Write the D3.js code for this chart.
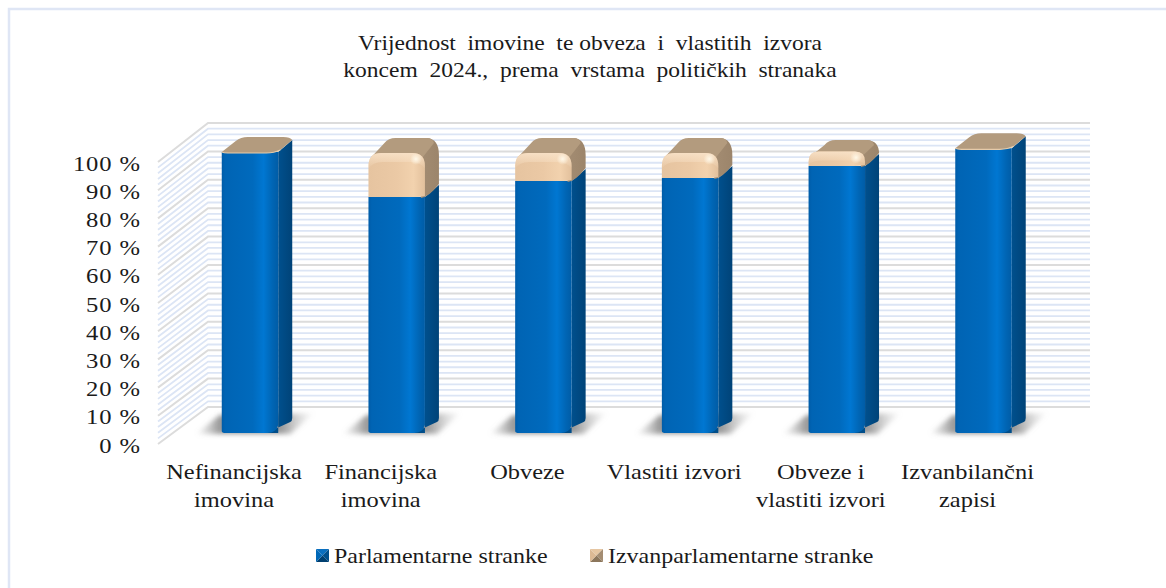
<!DOCTYPE html>
<html>
<head>
<meta charset="utf-8">
<script src="https://cdn.jsdelivr.net/npm/d3@7"></script>
<style>
html, body {margin: 0; padding: 0; background: #fff;}
svg {display: block;}
text {font-family: "Liberation Serif", serif; fill: #1a1a1a;}
</style>
</head>
<body>
<svg id="chart"></svg>
<script>
var titleLines = ['Vrijednost  imovine  te obveza  i  vlastitih  izvora', 'koncem  2024.,  prema  vrstama  političkih  stranaka'];
var categories = ['Nefinancijska imovina', 'Financijska imovina', 'Obveze', 'Vlastiti izvori', 'Obveze i vlastiti izvori', 'Izvanbilančni zapisi'];
var categoryLines = [['Nefinancijska', 'imovina'], ['Financijska', 'imovina'], ['Obveze'], ['Vlastiti izvori'], ['Obveze i', 'vlastiti izvori'], ['Izvanbilančni', 'zapisi']];
var seriesNames = ['Parlamentarne stranke', 'Izvanparlamentarne stranke'];
var parlamentarne = [98.6, 82.8, 88.4, 89.5, 93.7, 99.9];
var izvanparlamentarne = [1.4, 17.2, 11.6, 10.5, 6.3, 0.1];
var tickValues = [0, 10, 20, 30, 40, 50, 60, 70, 80, 90, 100];
var minorValues = d3.range(0, 100, 2);

var width = 1166, height = 588;
var depthX = 14, depthY = -12;

var svg = d3.select("#chart").attr("width", width).attr("height", height);
var defs = svg.append("defs");

// Scales: front of the side wall, back wall, and the plane the bars stand on
var yFront = d3.scaleLinear().domain([0, 100]).range([444, 162]);
var yBack = d3.scaleLinear().domain([0, 100]).range([407, 123]);
var yBar = d3.scaleLinear().domain([0, 100]).range([433, 148]);
var yLabel = d3.scaleLinear().domain([0, 100]).range([445, 163]);
var x = d3.scaleBand()
    .domain(categories)
    .range([176.65, 1056.85])
    .paddingInner(0.615)
    .paddingOuter(0.3075);

// The source picture is stretched sideways, so text is widened the same way
function placeWide(sel, px, py, sx)
{
    sel.attr("transform", "translate(" + px + "," + py + ") scale(" + sx + ",1)");
}

function gradient(id, stops, vertical)
{
    var g = defs.append("linearGradient").attr("id", id)
        .attr("x1", 0).attr("y1", 0)
        .attr("x2", vertical ? 0 : 1).attr("y2", vertical ? 1 : 0);
    stops.forEach(s => g.append("stop").attr("offset", s[0]).attr("stop-color", s[1]).attr("stop-opacity", s[2] === undefined ? 1 : s[2]));
}
gradient("blueFront", [[0, "#005ca8"], [0.06, "#0064b4"], [0.55, "#006abd"], [0.74, "#0077d2"], [0.9, "#0065b4"], [1, "#005ca6"]]);
gradient("blueSide", [[0, "#00467e"], [0.5, "#004f8c"], [1, "#004378"]]);
gradient("peachFront", [[0, "#e6c4a0"], [0.5, "#ebc9a5"], [0.8, "#f2d2ae"], [1, "#e2c09c"]]);
gradient("peachSide", [[0, "#a48d73"], [1, "#9c856b"]]);
gradient("shadow", [[0, "#999", 0], [0.2, "#777", 0.75], [0.72, "#777", 0.75], [1, "#aaa", 0]]);
gradient("bevel", [[0, "#f8e2c8", 0.9], [1, "#f8e2c8", 0]], true);
var glow = defs.append("radialGradient").attr("id", "glow");
glow.append("stop").attr("offset", 0).attr("stop-color", "#fff8e8").attr("stop-opacity", 1);
glow.append("stop").attr("offset", 1).attr("stop-color", "#fff8e8").attr("stop-opacity", 0);
defs.append("filter").attr("id", "blur").attr("x", "-20%").attr("y", "-40%").attr("width", "140%").attr("height", "180%")
    .append("feGaussianBlur").attr("stdDeviation", 2.5);

// Image frame, only top and left show
svg.append("path").attr("d", "M9,588V9H1166").attr("fill", "none").attr("stroke", "#dfe6f5").attr("stroke-width", 2.5);

// Title
titleLines.forEach((line, i) =>
{
    svg.append("text")
        .call(placeWide, 590, 50 + i * 27, 1.12)
        .attr("text-anchor", "middle")
        .style("font-size", "21px")
        .style("white-space", "pre")
        .text(line);
});

// Walls
var walls = svg.append("g");
function wallLine(v, color, w)
{
    walls.append("path")
        .attr("d", d3.line()([[158, yFront(v)], [208, yBack(v)], [1090, yBack(v)]]))
        .attr("fill", "none").attr("stroke", color).attr("stroke-width", w);
}
minorValues.filter(v => v % 10 != 0).forEach(v => wallLine(v, "#dce5f5", 1.8));
tickValues.forEach(v => wallLine(v, "#dcdcdc", 2));

// Y axis, labels only
var yAxis = svg.append("g")
    .attr("transform", "translate(141,0)")
    .call(d3.axisLeft(yLabel).tickValues(tickValues).tickSize(0).tickPadding(0).tickFormat(d => d + " %"));
yAxis.select(".domain").remove();
yAxis.selectAll("text")
    .attr("fill", "#1a1a1a")
    .attr("transform", "scale(1.12,1)")
    .attr("x", 0)
    .style("font-size", "22px")
    .style("letter-spacing", "0.8px")
    .style("font-family", "'Liberation Serif', serif");

// Bars
var rows = categories.map((c, i) => ({category: c, parl: parlamentarne[i], izvan: izvanparlamentarne[i]}));
var stacked = d3.stack().keys(["parl", "izvan"])(rows);

var bars = svg.append("g");
rows.forEach((row, i) =>
{
    var x0 = x(row.category), x1 = x0 + x.bandwidth();
    var yZero = yBar(0);
    var yParl = yBar(stacked[0][i][1]);
    var yTotal = yBar(stacked[1][i][1]);
    var peachHeight = yParl - yTotal;
    var bar = bars.append("g");

    // Floor shadow
    bar.append("path")
        .attr("d", `M${x0 - 26},${yZero + 1}L${x0 - 2},${yZero - 18}L${x1 + 36},${yZero - 20}L${x1 + 12},${yZero + 1}Z`)
        .attr("fill", "url(#shadow)")
        .attr("filter", "url(#blur)");

    // Blue side and front
    bar.append("path")
        .attr("d", `M${x1 - 12},${yZero}L${x1 + depthX - 2},${yZero + depthY + 1}Q${x1 + depthX},${yZero + depthY} ${x1 + depthX},${yZero + depthY - 3}V${yParl + depthY}L${x1},${yParl}V${yZero}Z`)
        .attr("fill", "url(#blueSide)");
    bar.append("path")
        .attr("d", `M${x0},${yParl}V${yZero - 2}Q${x0},${yZero} ${x0 + 4},${yZero}H${x1 - 11}Q${x1 - 2},${yZero} ${x1},${yZero - 8}V${yParl}Z`)
        .attr("fill", "url(#blueFront)");

    if (peachHeight < 6)
    {
        // Thin segment: only the top face shows
        var t = yParl;
        bar.append("path")
            .attr("d", `M${x0},${t}L${x0 + 14},${t - 11}Q${x0 + 19},${t - 15} ${x0 + 26},${t - 15}H${x1 + 5}Q${x1 + 12},${t - 15} ${x1 + depthX},${t + depthY}L${x1 + 2},${t - 2}Q${x1 - 4},${t + 1} ${x1 - 12},${t + 1}H${x0 + 6}Q${x0 + 2},${t + 1} ${x0},${t}Z`)
            .attr("fill", "#b39b7e");
        bar.append("path")
            .attr("d", `M${x0},${t}Q${x0 + 2},${t + 1} ${x0 + 6},${t + 1}H${x1 - 12}Q${x1 - 4},${t + 1} ${x1 + 2},${t - 2}`)
            .attr("fill", "none").attr("stroke", "#e6cbaa").attr("stroke-width", 1.2);
        return;
    }

    var inset = Math.min(5, peachHeight * 0.2);
    var top = yTotal + inset;
    var r = Math.min(13, (yParl - top) * 0.7);
    var rise = Math.min(15, (yParl - top) * 0.8);

    // Peach side and top faces
    bar.append("path")
        .attr("d", `M${x1 - 4},${yParl + 1}Q${x1 + 4},${yParl} ${x1 + depthX},${yParl + depthY - 1}V${top + 2}Q${x1 + depthX},${top - rise + 1} ${x1 + 2},${top - rise}H${x1 - 6}L${x1 - 6},${top + 4}Z`)
        .attr("fill", "url(#peachSide)");
    bar.append("path")
        .attr("d", `M${x0 + 3},${top + 4}L${x0 + 16},${top - rise + 5}Q${x0 + 20},${top - rise} ${x0 + 27},${top - rise}H${x1 + 2}Q${x1 + 8},${top - rise} ${x1 + 9},${top - rise + 5}L${x1 - 2},${top + 4}Z`)
        .attr("fill", "#b39b7e");

    // Peach front
    bar.append("path")
        .attr("d", `M${x0},${yParl}V${top + r}Q${x0},${top} ${x0 + r},${top}H${x1 - r}Q${x1},${top} ${x1},${top + r}V${yParl - 1}Q${x1 - 5},${yParl} ${x1 - 14},${yParl}Z`)
        .attr("fill", "url(#peachFront)");
    bar.append("path")
        .attr("d", `M${x0},${top + r + 3}V${top + r}Q${x0},${top} ${x0 + r},${top}H${x1 - r}Q${x1},${top} ${x1},${top + r}V${top + r + 3}Q${x1 - 4},${top + 9} ${x1 - 14},${top + 9}H${x0 + 14}Q${x0 + 4},${top + 9} ${x0},${top + r + 3}Z`)
        .attr("fill", "url(#bevel)");
    bar.append("ellipse")
        .attr("cx", x1 - 9).attr("cy", top + 6).attr("rx", 6).attr("ry", 6)
        .attr("fill", "url(#glow)");
});

// Category labels
categoryLines.forEach((lines, i) =>
{
    lines.forEach((line, k) =>
    {
        svg.append("text")
            .call(placeWide, x(categories[i]) + x.bandwidth() / 2 - 16, 479 + k * 28, 1.11)
            .attr("text-anchor", "middle")
            .style("font-size", "22px")
            .text(line);
    });
});

// Legend
var legendX = [316, 590];
var swatchColors = [["#0a6fbf", "#004f8c", "#003f70", "#0068b8"], ["#e6c6a2", "#a48d73", "#8c765c", "#dcb994"]];
seriesNames.forEach((name, i) =>
{
    var g = svg.append("g").attr("transform", "translate(" + legendX[i] + ",549)");
    var s = 13, c = s / 2;
    [[[0, 0], [s, 0]], [[s, 0], [s, s]], [[s, s], [0, s]], [[0, s], [0, 0]]].forEach((edge, k) =>
    {
        g.append("path")
            .attr("d", d3.line()([edge[0], edge[1], [c, c]]) + "Z")
            .attr("fill", swatchColors[i][k]);
    });
    g.append("text")
        .call(placeWide, s + 5, 14, 1.09)
        .style("font-size", "22px")
        .text(name);
});
</script>
</body>
</html>
